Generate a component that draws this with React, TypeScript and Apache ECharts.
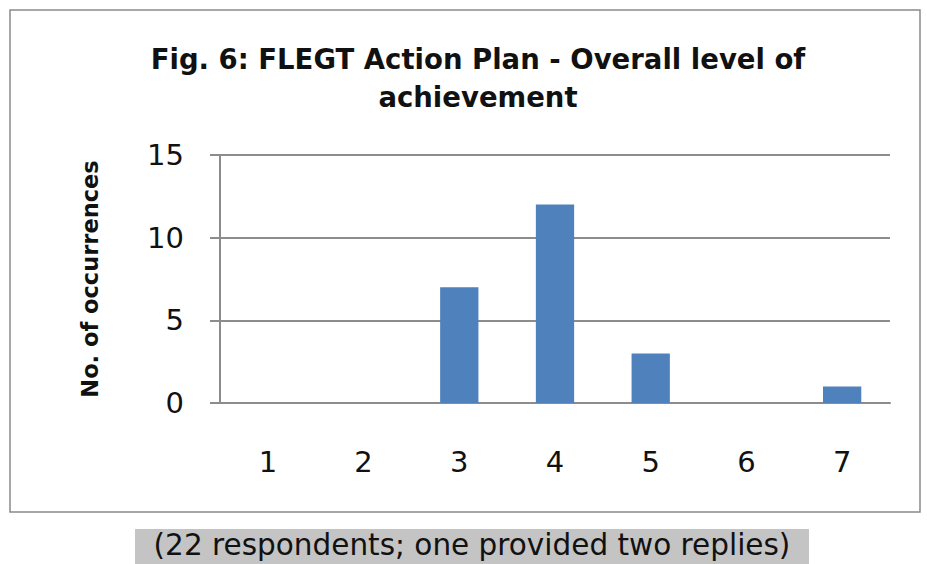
import React, { useEffect, useRef } from "react";
import * as echarts from "echarts";

const categories = ["1", "2", "3", "4", "5", "6", "7"];
const occurrences = [0, 0, 7, 12, 3, 0, 1];
const titleText = "Fig. 6: FLEGT Action Plan - Overall level of\nachievement";
const yAxisName = "No. of occurrences";
const captionText = "(22 respondents; one provided two replies)";

const FONT = "DejaVu Sans";

export default function App() {
  const ref = useRef<HTMLDivElement>(null);
  useEffect(() => {
    if (!ref.current) return;
    const chart = echarts.init(ref.current, null, { renderer: "svg" });
    chart.setOption({
      animation: false,
      backgroundColor: "#ffffff",
      title: {
        text: titleText,
        left: 473,
        top: 35,
        textAlign: "center",
        textStyle: {
          fontFamily: FONT,
          fontWeight: "bold",
          fontSize: 27.5,
          lineHeight: 38,
          color: "#111",
        },
      },
      grid: { left: 220, right: 37, top: 155, bottom: 161 },
      xAxis: {
        type: "category",
        data: categories,
        axisLine: { show: true, lineStyle: { color: "#8c8c8c", width: 2 } },
        axisTick: { show: false },
        axisLabel: {
          margin: 44,
          fontFamily: FONT,
          fontSize: 29,
          color: "#111",
        },
      },
      yAxis: {
        type: "value",
        min: 0,
        max: 15,
        interval: 5,
        name: yAxisName,
        nameLocation: "middle",
        nameGap: 119,
        nameTextStyle: {
          fontFamily: FONT,
          fontWeight: "bold",
          fontSize: 22.5,
          color: "#111",
        },
        axisLine: { show: true, lineStyle: { color: "#8c8c8c", width: 2 } },
        axisTick: { show: true, length: 10, lineStyle: { color: "#8c8c8c", width: 2 } },
        splitLine: { show: true, lineStyle: { color: "#8c8c8c", width: 2 } },
        axisLabel: {
          margin: 36,
          fontFamily: FONT,
          fontSize: 29,
          color: "#111",
        },
      },
      series: [
        {
          type: "bar",
          data: occurrences,
          barWidth: "40%",
          itemStyle: { color: "#4f81bd" },
        },
      ],
      graphic: [
        {
          type: "rect",
          shape: { x: 10, y: 10, width: 910, height: 502 },
          style: { fill: "none", stroke: "#8a8a8a", lineWidth: 1.5 },
          z: -1,
        },
        {
          type: "rect",
          shape: { x: 135, y: 529, width: 674, height: 35 },
          style: { fill: "#c4c4c4" },
          z: 0,
        },
        {
          type: "text",
          x: 472,
          y: 545,
          style: {
            text: captionText,
            fontFamily: FONT,
            fontSize: 29.5,
            fill: "#111",
            align: "center",
            verticalAlign: "middle",
          },
          z: 1,
        },
      ],
    });
    return () => chart.dispose();
  }, []);
  return (
    <div
      ref={ref}
      style={{ position: "fixed", left: 0, top: 0, width: 927, height: 564 }}
    />
  );
}
